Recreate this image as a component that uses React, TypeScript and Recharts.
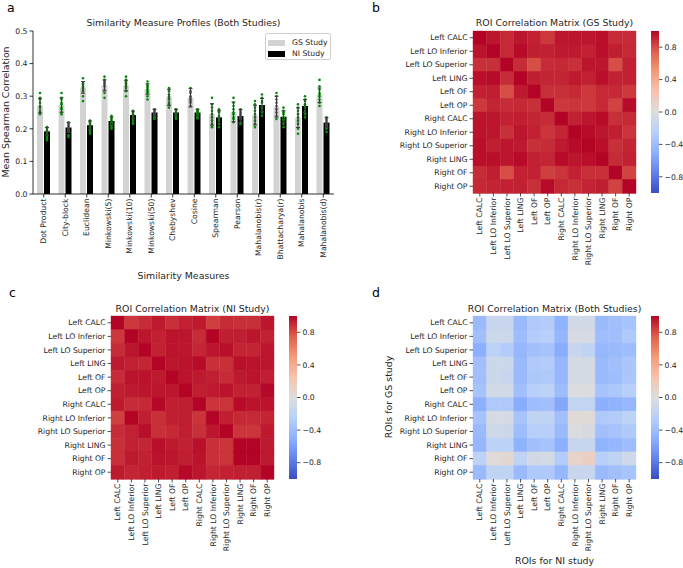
import React from "react";
import { BarChart, Bar, XAxis, YAxis, ErrorBar, Cell } from "recharts";

const FONT = "DejaVu Sans, sans-serif";
const TEXT = "#262626";

// ---- panel a: similarity measures ----
const measures = [
  "Dot Product", "City-block", "Euclidean", "Minkowski(5)", "Minkowski(10)", "Minkowski(50)",
  "Chebyshev", "Cosine", "Spearman", "Pearson", "Mahalanobis(r)", "Bhattacharya(r)",
  "Mahalanobis", "Mahalanobis(d)",
];
const gsMeans = [0.271, 0.273, 0.327, 0.333, 0.333, 0.322, 0.296, 0.295, 0.244, 0.252, 0.242, 0.268, 0.234, 0.303];
const niMeans = [0.192, 0.204, 0.211, 0.224, 0.242, 0.25, 0.25, 0.25, 0.235, 0.239, 0.273, 0.237, 0.27, 0.219];
const gsErr = [0.022, 0.022, 0.018, 0.017, 0.016, 0.016, 0.025, 0.028, 0.033, 0.03, 0.03, 0.032, 0.03, 0.022];
const niErr = [0.012, 0.015, 0.013, 0.012, 0.012, 0.01, 0.01, 0.01, 0.02, 0.02, 0.02, 0.018, 0.02, 0.015];

const gsPoints = [
  [0.31, 0.295, 0.29, 0.28, 0.27, 0.265, 0.255, 0.25, 0.245],
  [0.31, 0.295, 0.29, 0.28, 0.275, 0.265, 0.26, 0.25, 0.245],
  [0.355, 0.34, 0.335, 0.33, 0.325, 0.32, 0.315, 0.3, 0.285],
  [0.36, 0.35, 0.345, 0.34, 0.335, 0.33, 0.32, 0.31, 0.295],
  [0.36, 0.35, 0.345, 0.34, 0.335, 0.33, 0.325, 0.315, 0.3],
  [0.345, 0.335, 0.33, 0.325, 0.32, 0.315, 0.31, 0.3, 0.29],
  [0.325, 0.315, 0.305, 0.3, 0.295, 0.29, 0.28, 0.275, 0.265],
  [0.325, 0.315, 0.31, 0.3, 0.295, 0.29, 0.285, 0.28, 0.27],
  [0.295, 0.275, 0.265, 0.255, 0.245, 0.235, 0.225, 0.215, 0.205],
  [0.295, 0.28, 0.27, 0.26, 0.25, 0.245, 0.235, 0.23, 0.22],
  [0.285, 0.275, 0.265, 0.255, 0.245, 0.235, 0.225, 0.215, 0.205],
  [0.31, 0.3, 0.29, 0.28, 0.27, 0.26, 0.25, 0.24, 0.23],
  [0.275, 0.265, 0.255, 0.245, 0.235, 0.225, 0.215, 0.2, 0.185],
  [0.35, 0.33, 0.32, 0.31, 0.305, 0.3, 0.29, 0.28, 0.27],
];
const niPoints = [
  [0.205, 0.2, 0.195, 0.19, 0.185, 0.18, 0.175, 0.17, 0.165],
  [0.22, 0.215, 0.21, 0.205, 0.2, 0.195, 0.19, 0.18, 0.175],
  [0.225, 0.22, 0.215, 0.21, 0.205, 0.2, 0.195, 0.19, 0.185],
  [0.24, 0.235, 0.23, 0.225, 0.22, 0.215, 0.21, 0.205, 0.2],
  [0.255, 0.25, 0.245, 0.24, 0.235, 0.23, 0.225, 0.22, 0.215],
  [0.26, 0.258, 0.255, 0.25, 0.248, 0.245, 0.24, 0.235, 0.23],
  [0.26, 0.258, 0.255, 0.25, 0.248, 0.245, 0.24, 0.235, 0.23],
  [0.26, 0.257, 0.254, 0.25, 0.247, 0.244, 0.24, 0.236, 0.232],
  [0.26, 0.255, 0.25, 0.24, 0.235, 0.23, 0.225, 0.215, 0.205],
  [0.26, 0.255, 0.25, 0.245, 0.24, 0.235, 0.23, 0.22, 0.215],
  [0.305, 0.295, 0.285, 0.28, 0.27, 0.265, 0.26, 0.25, 0.24],
  [0.265, 0.255, 0.25, 0.245, 0.235, 0.23, 0.225, 0.215, 0.205],
  [0.3, 0.29, 0.285, 0.275, 0.27, 0.265, 0.255, 0.245, 0.235],
  [0.235, 0.23, 0.225, 0.22, 0.215, 0.21, 0.205, 0.2, 0.19],
];
const yTicksA = [0, 0.1, 0.2, 0.3, 0.4, 0.5];

// ---- panels b-d: ROI correlation matrices ----
const rois = [
  "Left CALC", "Left LO Inferior", "Left LO Superior", "Left LING", "Left OF", "Left OP",
  "Right CALC", "Right LO Inferior", "Right LO Superior", "Right LING", "Right OF", "Right OP",
];

const gsMatrix = [
  [1.0, 0.95, 0.9, 0.95, 0.92, 0.86, 0.95, 0.95, 0.95, 0.97, 0.89, 0.89],
  [0.96, 1.0, 0.9, 0.98, 0.93, 0.92, 0.94, 0.94, 0.92, 0.97, 0.93, 0.9],
  [0.88, 0.88, 1.0, 0.89, 0.8, 0.89, 0.9, 0.88, 0.95, 0.95, 0.8, 0.92],
  [0.97, 0.98, 0.89, 1.0, 0.93, 0.91, 0.91, 0.94, 0.92, 0.97, 0.92, 0.92],
  [0.92, 0.93, 0.8, 0.94, 1.0, 0.88, 0.88, 0.9, 0.86, 0.9, 0.9, 0.86],
  [0.86, 0.91, 0.89, 0.9, 0.88, 1.0, 0.86, 0.87, 0.86, 0.9, 0.83, 0.98],
  [0.96, 0.95, 0.92, 0.93, 0.91, 0.89, 1.0, 0.92, 0.95, 0.98, 0.88, 0.9],
  [0.96, 0.95, 0.88, 0.95, 0.92, 0.87, 0.91, 1.0, 0.98, 0.95, 0.93, 0.87],
  [0.97, 0.93, 0.95, 0.94, 0.88, 0.89, 0.94, 0.98, 1.0, 0.97, 0.88, 0.91],
  [0.97, 0.97, 0.95, 0.98, 0.92, 0.91, 0.98, 0.95, 0.97, 1.0, 0.89, 0.92],
  [0.89, 0.93, 0.8, 0.92, 0.92, 0.84, 0.87, 0.92, 0.88, 0.88, 1.0, 0.83],
  [0.9, 0.91, 0.92, 0.92, 0.88, 0.98, 0.9, 0.88, 0.91, 0.93, 0.83, 1.0],
];

const niMatrix = [
  [1.0, 0.86, 0.89, 0.94, 0.88, 0.92, 0.94, 0.84, 0.89, 0.88, 0.88, 0.95],
  [0.86, 1.0, 0.95, 0.92, 0.96, 0.95, 0.89, 1.0, 0.93, 0.93, 0.95, 0.92],
  [0.89, 0.95, 1.0, 0.92, 0.96, 0.95, 0.91, 0.95, 0.97, 0.91, 0.91, 0.95],
  [0.94, 0.92, 0.91, 1.0, 0.95, 0.96, 0.98, 0.88, 0.88, 0.97, 0.96, 0.95],
  [0.89, 0.96, 0.96, 0.94, 1.0, 0.96, 0.94, 0.93, 0.89, 0.94, 0.96, 0.93],
  [0.93, 0.94, 0.95, 0.95, 0.95, 1.0, 0.93, 0.94, 0.96, 0.92, 0.92, 0.99],
  [0.94, 0.89, 0.9, 0.99, 0.93, 0.93, 1.0, 0.87, 0.87, 0.98, 0.96, 0.96],
  [0.84, 1.0, 0.93, 0.88, 0.93, 0.93, 0.87, 1.0, 0.93, 0.9, 0.9, 0.91],
  [0.89, 0.92, 0.97, 0.88, 0.9, 0.93, 0.88, 0.95, 1.0, 0.87, 0.87, 0.94],
  [0.88, 0.92, 0.91, 0.97, 0.94, 0.92, 0.97, 0.88, 0.87, 1.0, 1.0, 0.94],
  [0.88, 0.94, 0.92, 0.96, 0.95, 0.93, 0.96, 0.88, 0.87, 1.0, 1.0, 0.94],
  [0.94, 0.91, 0.93, 0.94, 0.93, 0.99, 0.95, 0.91, 0.92, 0.93, 0.93, 1.0],
];

const bothMatrix = [
  [-0.42, -0.15, -0.15, -0.42, -0.3, -0.28, -0.48, -0.08, -0.08, -0.42, -0.38, -0.35],
  [-0.38, -0.12, -0.12, -0.4, -0.28, -0.25, -0.45, -0.05, -0.05, -0.4, -0.38, -0.3],
  [-0.5, -0.22, -0.28, -0.45, -0.38, -0.35, -0.52, -0.15, -0.2, -0.45, -0.42, -0.4],
  [-0.38, -0.12, -0.12, -0.42, -0.3, -0.28, -0.45, -0.06, -0.06, -0.42, -0.38, -0.33],
  [-0.38, -0.12, -0.15, -0.42, -0.32, -0.3, -0.45, -0.06, -0.06, -0.42, -0.4, -0.33],
  [-0.35, -0.08, -0.08, -0.38, -0.25, -0.22, -0.4, -0.02, -0.02, -0.35, -0.32, -0.25],
  [-0.5, -0.3, -0.3, -0.52, -0.4, -0.38, -0.55, -0.18, -0.18, -0.5, -0.48, -0.45],
  [-0.35, -0.05, -0.05, -0.35, -0.2, -0.2, -0.38, 0.03, 0.03, -0.3, -0.28, -0.22],
  [-0.42, -0.1, -0.12, -0.4, -0.25, -0.25, -0.42, -0.02, -0.04, -0.38, -0.35, -0.3],
  [-0.45, -0.22, -0.22, -0.48, -0.38, -0.35, -0.5, -0.15, -0.15, -0.48, -0.45, -0.4],
  [-0.22, 0.02, 0.06, -0.2, -0.08, -0.06, -0.28, 0.1, 0.14, -0.25, -0.2, -0.1],
  [-0.42, -0.2, -0.2, -0.42, -0.3, -0.3, -0.45, -0.15, -0.15, -0.42, -0.38, -0.35],
];
const cbTicks = [-0.8, -0.4, 0, 0.4, 0.8];

// coolwarm colormap anchors (t in 0..1)
const cwStops: [number, number[]][] = [
  [0, [59, 76, 192]],
  [0.125, [98, 130, 234]],
  [0.25, [141, 176, 254]],
  [0.375, [184, 208, 249]],
  [0.5, [221, 221, 221]],
  [0.625, [245, 196, 173]],
  [0.75, [244, 154, 123]],
  [0.875, [222, 96, 77]],
  [1, [180, 4, 38]],
];

const rgb = (c: number[]) => `rgb(${c.map((v) => Math.round(v)).join(",")})`;

function coolwarm(v: number) {
  const t = Math.max(0, Math.min(1, (v + 1) / 2));
  for (let k = 1; k < cwStops.length; k++) {
    const [t1, c1] = cwStops[k];
    const [t0, c0] = cwStops[k - 1];
    if (t <= t1) {
      const f = (t - t0) / (t1 - t0);
      return rgb(c0.map((a, i) => a + (c1[i] - a) * f));
    }
  }
  return rgb(cwStops[cwStops.length - 1][1]);
}

const fmtTick = (v: number) => (v < 0 ? "\u2212" : "") + Math.abs(v).toFixed(1);

// rotated x tick (reads bottom to top, like matplotlib rotation=90)
function RotTick(props: any) {
  const { x, y, payload, labels, fontSize } = props;
  const label = labels ? labels[Math.floor(payload.value)] : payload.value;
  return (
    <text
      x={x}
      y={y}
      transform={`rotate(-90 ${x} ${y})`}
      textAnchor="end"
      dy="0.35em"
      fontSize={fontSize}
      fontFamily={FONT}
      fill={TEXT}
    >
      {label}
    </text>
  );
}

// plain y tick, no wrapping
function LeftTick(props: any) {
  const { x, y, payload } = props;
  return (
    <text x={x} y={y} textAnchor="end" dy="0.35em" fontSize={7.7} fontFamily={FONT} fill={TEXT}>
      {payload.value}
    </text>
  );
}

const barRows = measures.map((m, i) => ({
  name: m,
  gs: gsMeans[i],
  ni: niMeans[i],
  gsErr: gsErr[i],
  niErr: niErr[i],
  gsPts: gsPoints[i],
  niPts: niPoints[i],
}));

// bar rect + the individual subject values as green dots
const barWithDots = (fill: string, valKey: string, ptsKey: string) => (props: any) => {
  const { x, y, width, height, payload } = props;
  const v = payload[valKey];
  const k = height / v;
  const base = y + height;
  return (
    <g>
      <rect x={x} y={y} width={width} height={height} fill={fill} />
      {payload[ptsKey].map((p: number, i: number) => (
        <circle key={i} cx={x + width / 2} cy={base - p * k} r={1.3} fill="#0a8a0a" />
      ))}
    </g>
  );
};

function SimilarityPanel() {
  return (
    <div style={{ position: "absolute", left: 0, top: 0 }}>
      <BarChart
        width={340}
        height={285}
        data={barRows}
        margin={{ top: 31, right: 6, left: 5, bottom: 0 }}
        barSize={6}
        barGap={1}
      >
        <XAxis
          dataKey="name"
          interval={0}
          height={91}
          tickSize={3.5}
          tickMargin={1}
          axisLine={{ stroke: "#000", strokeWidth: 0.8 }}
          tickLine={{ stroke: "#000", strokeWidth: 0.8 }}
          tick={<RotTick fontSize={7.7} />}
        />
        <XAxis
          xAxisId="top"
          dataKey="name"
          orientation="top"
          height={0}
          tick={false}
          tickLine={false}
          axisLine={{ stroke: "#000", strokeWidth: 0.8 }}
        />
        <YAxis
          type="number"
          domain={[0, 0.5]}
          ticks={yTicksA}
          width={28}
          tickSize={3.5}
          tickMargin={2}
          tickFormatter={(v: number) => v.toFixed(1)}
          axisLine={{ stroke: "#000", strokeWidth: 0.8 }}
          tickLine={{ stroke: "#000", strokeWidth: 0.8 }}
          tick={{ fontSize: 7.7, fill: TEXT, fontFamily: FONT }}
        />
        <YAxis
          yAxisId="r"
          orientation="right"
          type="number"
          domain={[0, 0.5]}
          width={0}
          tick={false}
          tickLine={false}
          axisLine={{ stroke: "#000", strokeWidth: 0.8 }}
        />
        <Bar dataKey="gs" fill="#d3d3d3" isAnimationActive={false} shape={barWithDots("#d3d3d3", "gs", "gsPts")}>
          <ErrorBar dataKey="gsErr" width={2} stroke="#3a3a3a" strokeWidth={1} direction="y" />
        </Bar>
        <Bar dataKey="ni" fill="#000" isAnimationActive={false} shape={barWithDots("#000", "ni", "niPts")}>
          <ErrorBar dataKey="niErr" width={2} stroke="#3a3a3a" strokeWidth={1} direction="y" />
        </Bar>
      </BarChart>
      <div
        style={{
          position: "absolute",
          left: 265,
          top: 33,
          width: 66,
          height: 27,
          border: "1px solid #cfcfcf",
          borderRadius: 2,
          background: "rgba(255,255,255,0.85)",
          boxSizing: "border-box",
          fontFamily: FONT,
          fontSize: 7.7,
          color: TEXT,
        }}
      >
        {[
          ["GS Study", "#d3d3d3"],
          ["NI Study", "#000"],
        ].map(([label, color], i) => (
          <div key={label} style={{ position: "absolute", left: 2, top: 4 + i * 11, height: 9, display: "flex", alignItems: "center" }}>
            <span style={{ display: "inline-block", width: 17, height: 6, background: color, marginRight: 7 }} />
            <span>{label}</span>
          </div>
        ))}
      </div>
    </div>
  );
}

const heatRows = rois.map((name) => {
  const r: Record<string, any> = { name };
  rois.forEach((_, j) => (r["c" + j] = 1));
  return r;
});

function Heatmap({ matrix, left, top, width, height, yWidth, xHeight }: any) {
  return (
    <div style={{ position: "absolute", left, top }}>
      <BarChart
        width={width}
        height={height}
        data={heatRows}
        layout="vertical"
        margin={{ top: 31, right: 7, left: 5, bottom: 0 }}
        barCategoryGap={0}
        barGap={0}
      >
        <XAxis
          type="number"
          domain={[0, 12]}
          ticks={rois.map((_, j) => j + 0.5)}
          interval={0}
          height={xHeight}
          tickSize={3.5}
          tickMargin={1}
          axisLine={false}
          tickLine={{ stroke: TEXT, strokeWidth: 0.8 }}
          tick={<RotTick labels={rois} fontSize={7.7} />}
        />
        <YAxis
          type="category"
          dataKey="name"
          width={yWidth}
          interval={0}
          tickSize={3.5}
          tickMargin={2}
          axisLine={false}
          tickLine={{ stroke: TEXT, strokeWidth: 0.8 }}
          tick={<LeftTick />}
        />
        {rois.map((_, j) => (
          <Bar key={j} dataKey={"c" + j} stackId="h" isAnimationActive={false}>
            {rois.map((__, i) => (
              <Cell key={i} fill={coolwarm(matrix[i][j])} stroke={coolwarm(matrix[i][j])} strokeWidth={0.4} />
            ))}
          </Bar>
        ))}
      </BarChart>
    </div>
  );
}

function Colorbar({ id, left, top, height, bottom }: any) {
  return (
    <div style={{ position: "absolute", left, top }}>
      <BarChart
        width={43}
        height={height}
        data={[{ name: "cb", range: [-1, 1] }]}
        margin={{ top: 31, right: 0, left: 11, bottom }}
        barCategoryGap={0}
      >
        <defs>
          <linearGradient id={id} x1="0" y1="1" x2="0" y2="0">
            {cwStops.map(([t, c]) => (
              <stop key={t} offset={t} stopColor={rgb(c)} />
            ))}
          </linearGradient>
        </defs>
        <XAxis dataKey="name" hide />
        <YAxis
          orientation="right"
          type="number"
          domain={[-1, 1]}
          ticks={cbTicks}
          width={24}
          tickSize={3.5}
          tickMargin={2}
          axisLine={false}
          tickFormatter={fmtTick}
          tickLine={{ stroke: TEXT, strokeWidth: 0.8 }}
          tick={{ fontSize: 7.7, fill: TEXT, fontFamily: FONT }}
        />
        <Bar dataKey="range" fill={`url(#${id})`} isAnimationActive={false} />
      </BarChart>
    </div>
  );
}

export default function App() {
  return (
    <div style={{ position: "relative", width: 683, height: 568, background: "#fff", fontFamily: FONT }}>
      <style>{`body{margin:0}`}</style>
      <SimilarityPanel />
      <Heatmap matrix={gsMatrix} left={340} top={0} width={303} height={285} yWidth={128} xHeight={92} />
      <Colorbar id="cbB" left={640} top={0} height={285} bottom={92} />
      <Heatmap matrix={niMatrix} left={0} top={285} width={281} height={283} yWidth={106} xHeight={89} />
      <Colorbar id="cbC" left={278} top={285} height={283} bottom={89} />
      <Heatmap matrix={bothMatrix} left={340} top={285} width={303} height={283} yWidth={128} xHeight={89} />
      <Colorbar id="cbD" left={640} top={285} height={283} bottom={89} />
      <svg width={683} height={568} style={{ position: "absolute", left: 0, top: 0, pointerEvents: "none" }}>
        <g fontFamily={FONT} fill="#000">
          <text x={7} y={12} fontSize={12.5}>a</text>
          <text x={372} y={12} fontSize={12.5}>b</text>
          <text x={9} y={297} fontSize={12.5}>c</text>
          <text x={372} y={297} fontSize={12.5}>d</text>
        </g>
        <g fontFamily={FONT} fill={TEXT} fontSize={9.4} textAnchor="middle">
          <text x={183.5} y={26}>Similarity Measure Profiles (Both Studies)</text>
          <text x={554.5} y={26}>ROI Correlation Matrix (GS Study)</text>
          <text x={192.5} y={312}>ROI Correlation Matrix (NI Study)</text>
          <text x={554.5} y={312}>ROI Correlation Matrix (Both Studies)</text>
          <text x={183.5} y={279}>Similarity Measures</text>
          <text x={554.5} y={564}>ROIs for NI study</text>
          <text x={9} y={112} transform="rotate(-90 9 112)">Mean Spearman Correlation</text>
          <text x={392} y={397} transform="rotate(-90 392 397)">ROIs for GS study</text>
        </g>
      </svg>
    </div>
  );
}
